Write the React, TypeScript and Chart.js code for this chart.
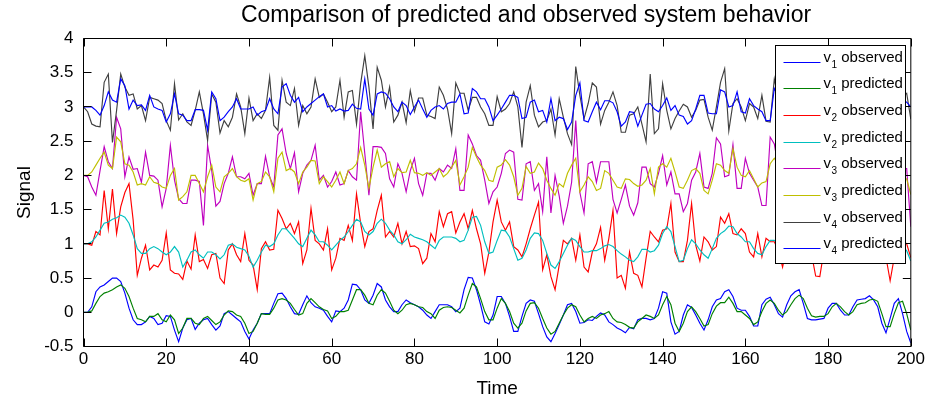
import React, { useEffect, useRef } from "react";
import { Chart, registerables } from "chart.js";

Chart.register(...registerables);

const FONT = "'Liberation Sans', Arial, Helvetica, sans-serif";
const TITLE = "Comparison of predicted and observed system behavior";
const X_LABEL = "Time";
const Y_LABEL = "Signal";

const TIME = Array.from({ length: 201 }, (_, i) => i);
const X_TICK_VALUES = [0, 20, 40, 60, 80, 100, 120, 140, 160, 180, 200];
const Y_TICK_VALUES = [-0.5, 0, 0.5, 1, 1.5, 2, 2.5, 3, 3.5, 4];

const V1_OBSERVED = [
  0, 0, 0.08, 0.3, 0.37, 0.4, 0.45, 0.5, 0.5, 0.45,
  0.28, 0.06, -0.11, -0.18, -0.18, -0.14, -0.06, -0.09, -0.18, -0.16,
  -0.05, -0.06, -0.26, -0.43, -0.23, -0.11, -0.09, -0.25, -0.16, -0.11,
  -0.09, -0.18, -0.26, -0.2, -0.02, 0.01, -0.04, -0.09, -0.14, -0.28,
  -0.39, -0.26, -0.16, -0.02, -0.02, -0.02, 0.13, 0.27, 0.28, 0.2,
  0.08, -0.02, -0.03, 0.11, 0.24, 0.14, 0.08, 0.06, 0.03, -0.06,
  -0.14, 0.02, 0.01, 0.06, 0.18, 0.41, 0.4, 0.33, 0.18, 0.13,
  0.25, 0.42, 0.37, 0.18, 0.08, 0.01, 0.01, 0.11, 0.18, 0.14,
  0.11, 0.08, 0.03, -0.04, -0.09, 0.01, 0.11, 0.11, 0.11, 0.08,
  0.01, 0.06, 0.33, 0.51, 0.5, 0.33, 0.11, -0.14, -0.17, -0.04,
  0.23, 0.23, 0.13, -0.06, -0.28, -0.28, -0.06, 0.13, 0.18, 0.16,
  -0.02, -0.21, -0.36, -0.43, -0.31, -0.18, -0.04, 0.11, 0.13, 0.01,
  -0.16, -0.15, -0.11, -0.12, -0.06, -0.01, -0.04, -0.14, -0.18, -0.23,
  -0.26, -0.3, -0.22, -0.24, -0.11, -0.09, -0.09, -0.11, -0.09, 0.06,
  0.3, 0.28, -0.14, -0.32, -0.28, -0.04, 0.11, 0.07, -0.04, -0.16,
  -0.26, -0.11, 0.08, 0.18, 0.2, 0.3, 0.33, 0.23, 0.06, 0.03,
  0.03, -0.06, -0.2, -0.2, 0.11, 0.19, 0.22, 0.11, -0.02, -0.07,
  0.11, 0.24, 0.3, 0.33, 0.13, -0.09, -0.11, -0.11, -0.1, -0.09,
  0.06, 0.13, 0.13, 0.03, -0.04, -0.04, 0.08, 0.18, 0.19, 0.2,
  0.24, 0.18, 0.08, -0.16, -0.3, -0.09, 0.13, 0.2, -0.02, -0.28,
  -0.45,
];

const V1_PREDICTED = [
  0, 0, 0.02, 0.13, 0.23, 0.28, 0.3, 0.33, 0.37, 0.4,
  0.35, 0.23, 0.06, -0.09, -0.11, -0.14, -0.06, -0.06, -0.02, -0.11,
  -0.14, -0.04, -0.11, -0.31, -0.23, -0.09, -0.09, -0.16, -0.18, -0.09,
  -0.06, -0.12, -0.18, -0.14, -0.04, 0.02, 0.01, -0.04, -0.06, -0.16,
  -0.31, -0.28, -0.16, -0.02, -0.03, -0.03, 0.06, 0.18, 0.2, 0.18,
  0.13, 0.04, -0.04, -0.02, 0.13, 0.2, 0.14, 0.08, 0.04, 0.02,
  -0.09, -0.06, 0.01, 0.01, 0.03, 0.18, 0.33, 0.33, 0.25, 0.13,
  0.11, 0.25, 0.33, 0.28, 0.16, 0.03, -0.02, 0.03, 0.11, 0.13,
  0.11, 0.08, 0.07, 0.01, -0.02, -0.09, 0.03, 0.07, 0.08, 0.07,
  0.03, -0.01, 0.06, 0.25, 0.42, 0.37, 0.2, 0.01, -0.11, -0.11,
  0.06, 0.2, 0.13, 0.01, -0.16, -0.23, -0.16, 0.02, 0.13, 0.14,
  0.06, -0.09, -0.23, -0.32, -0.28, -0.16, -0.04, 0.06, 0.11, 0.08,
  -0.04, -0.14, -0.09, -0.06, -0.09, -0.04, -0.02, 0.01, -0.09, -0.14,
  -0.15, -0.18, -0.22, -0.23, -0.14, -0.09, -0.04, -0.06, -0.09, -0.04,
  0.11, 0.23, 0.11, -0.16, -0.28, -0.16, 0.01, 0.08, 0.01, -0.09,
  -0.2, -0.18, -0.02, 0.09, 0.14, 0.14, 0.22, 0.13, 0.01, 0.01,
  -0.04, -0.09, -0.18, -0.14, 0.01, 0.13, 0.18, 0.13, 0.03, -0.04,
  0.01, 0.11, 0.2, 0.25, 0.2, 0.06, -0.05, -0.07, -0.06, -0.06,
  -0.02, 0.08, 0.13, 0.08, 0.01, -0.04, 0.01, 0.11, 0.13, 0.14,
  0.18, 0.19, 0.16, -0.02, -0.21, -0.21, -0.02, 0.14, 0.16, -0.02,
  -0.26,
];

const V2_OBSERVED = [
  1, 1, 0.98, 1.18, 1.13, 1.78, 1.22, 1.8, 1.15, 1.54,
  1.75, 1.88, 1.35, 0.54, 0.79, 0.98, 0.62, 0.69, 0.66, 0.76,
  1.16, 0.62, 0.57, 0.56, 0.48, 0.75, 0.63, 1.13, 0.74, 0.77,
  0.64, 0.84, 0.86, 0.5, 0.42, 0.91, 1.0, 0.84, 0.74, 1.15,
  0.76, 0.69, 0.33, 0.93, 1.03, 0.91, 0.92, 1.49, 1.37, 1.22,
  1.3, 1.15, 1.32, 0.71, 0.91, 1.52, 1.05, 1.0, 0.91, 1.22,
  0.62, 0.79, 1.08, 1.05, 1.27, 1.05, 1.73, 1.3, 0.96, 1.18,
  1.22, 1.49, 1.71, 1.1, 1.18, 1.1, 1.3, 1.0, 1.18, 0.96,
  0.97, 0.93, 0.71, 0.79, 1.15, 1.03, 1.47, 1.25, 1.44, 1.47,
  1.16, 1.32, 1.44, 1.22, 1.49, 1.22, 1.0, 0.57, 0.88, 1.32,
  1.64, 1.32, 1.2, 1.32, 0.96, 0.91, 0.81, 1.0, 1.22, 1.42,
  1.61, 0.62, 0.84, 0.52, 0.33, 0.69, 1.05, 1.0, 1.08, 0.76,
  1.13, 0.66, 0.59, 0.88, 1.0, 1.24, 0.76, 1.08, 1.49, 0.5,
  0.54, 0.35, 0.88, 0.57, 0.54, 0.37, 0.79, 1.18, 1.1, 1.03,
  1.2, 1.22, 1.59, 0.88, 0.74, 0.74, 1.05, 1.59, 0.98, 0.75,
  1.1, 1.03, 0.91, 0.96, 1.39, 1.3, 1.44, 1.15, 1.13, 1.22,
  1.15, 0.88, 0.81, 1.15, 0.81, 1.08, 1.03, 1.03, 0.9, 0.66,
  0.95, 1.2, 1.35, 1.05, 1.25, 0.95, 0.85, 0.53, 0.52, 0.9,
  1.1, 1.3, 1.0, 1.15, 0.95, 1.25, 1.4, 1.1, 0.9, 1.05,
  1.3, 1.2, 1.0, 0.85, 0.8, 0.46, 0.8, 0.95, 1.05, 1.0,
  0.8,
];

const V2_PREDICTED = [
  1, 1, 1.03, 1.1, 1.2, 1.3, 1.32, 1.36, 1.38, 1.42,
  1.39, 1.3, 1.13, 0.93, 0.86, 0.86, 0.93, 0.96, 0.93, 0.88,
  0.84, 0.88, 0.96, 0.88, 0.66, 0.76, 0.88, 0.91, 0.84, 0.79,
  0.88, 0.88, 0.84, 0.78, 0.84, 0.98, 1.0, 0.95, 0.93, 0.91,
  0.82, 0.66, 0.76, 0.88, 0.98, 0.96, 1.0, 1.13, 1.22, 1.22,
  1.15, 1.08, 1.0, 0.96, 1.08, 1.2, 1.13, 1.03, 1.03, 0.98,
  0.91, 0.98, 1.05, 1.1, 1.18, 1.27, 1.36, 1.32, 1.18, 1.13,
  1.18, 1.3, 1.36, 1.3, 1.2, 1.13, 1.03, 1.0, 1.06, 1.14,
  1.1, 1.08, 1.06, 1.03, 0.98, 0.93, 1.05, 1.1, 1.1, 1.1,
  1.08, 1.03, 1.05, 1.2, 1.39, 1.4, 1.27, 1.03, 0.86, 0.88,
  1.05, 1.2, 1.19, 1.1, 0.93, 0.76, 0.79, 0.91, 1.08, 1.16,
  1.15, 1.05, 0.86, 0.69, 0.64, 0.74, 0.86, 0.98, 1.08, 1.05,
  0.96, 0.88, 0.88, 0.9, 0.9, 0.93, 0.97, 0.99, 0.96, 0.9,
  0.85, 0.81, 0.76, 0.74, 0.81, 0.92, 0.92, 0.88, 0.9, 0.98,
  1.15, 1.25, 1.18, 0.96, 0.74, 0.76, 0.93, 1.06, 1.0, 0.91,
  0.84, 0.79, 0.93, 1.08, 1.15, 1.19, 1.26, 1.25, 1.15, 1.1,
  1.03, 1.03, 0.93, 0.86, 0.84, 0.96, 1.05, 1.05, 1.0, 0.92,
  0.95, 1.05, 1.15, 1.12, 1.1, 1.0, 0.9, 0.8, 0.82, 0.92,
  1.05, 1.15, 1.1, 1.08, 1.05, 1.1, 1.2, 1.15, 1.05, 1.05,
  1.15, 1.15, 1.05, 0.95, 0.85, 0.75, 0.8, 0.9, 0.95, 0.9,
  0.75,
];

const V3_OBSERVED = [
  2, 1.98, 1.83, 1.71, 2.07, 2.42, 2.2, 2.1, 2.85, 2.68,
  1.98, 2.27, 2.09, 2.1, 1.9, 2.34, 2.0, 1.99, 1.93, 1.54,
  1.81, 2.44, 1.93, 1.66, 1.59, 1.59, 1.93, 1.93, 1.91, 1.27,
  2.44, 2.07, 1.55, 1.62, 1.88, 2.03, 2.27, 1.98, 1.98, 1.95,
  2.03, 1.71, 1.88, 1.88, 2.28, 1.98, 1.83, 2.59, 2.68, 2.32,
  2.1, 2.33, 1.76, 2.03, 2.15, 2.22, 2.44, 1.93, 2.0, 1.83,
  1.91, 2.05, 1.86, 1.88, 2.07, 1.98, 1.93, 2.93, 2.32, 1.71,
  2.42, 2.42, 2.41, 2.32, 1.95, 1.83, 2.17, 2.03, 1.76, 2.07,
  2.25, 1.88, 1.71, 2.03, 2.03, 1.93, 2.1, 2.05, 2.15, 2.1,
  2.39, 1.78, 1.78, 2.59, 2.46, 2.29, 2.22, 1.93, 1.59, 1.76,
  1.83, 2.03, 2.32, 2.37, 2.34, 1.65, 1.64, 2.17, 2.2, 1.78,
  1.88, 1.47, 2.27, 1.45, 2.0, 1.7, 1.3, 1.55, 1.9, 2.8,
  1.75, 1.45, 2.17, 2.2, 1.9, 2.2, 2.2, 2.2, 1.65, 1.45,
  1.65, 1.86, 1.55, 1.42, 1.6, 2.12, 2.12, 1.88, 1.83, 2.03,
  2.29, 1.86, 2.05, 1.73, 1.73, 1.47, 1.59, 1.93, 2.05, 2.32,
  1.83, 1.81, 2.03, 2.55, 2.46, 1.98, 2.0, 2.45, 1.81, 1.81,
  2.25, 2.03, 1.93, 1.83, 1.56, 1.56, 2.56, 2.46, 2.1, 1.8,
  2.2, 2.4, 1.9, 1.7, 2.1, 2.3, 1.85, 1.6, 2.0, 2.35,
  2.05, 1.75, 2.2, 2.45, 2.0, 1.8, 2.1, 2.3, 1.95, 1.7,
  2.05, 2.4, 2.15, 1.8, 2.0, 2.3, 1.9, 1.65, 2.1, 2.1,
  1.25,
];

const V3_PREDICTED = [
  2, 2, 2.05, 2.15, 2.25, 2.34, 2.15, 2.1, 2.56, 2.49,
  2.17, 2.15, 2.05, 1.86, 1.88, 1.86, 1.98, 1.9, 1.88, 1.83,
  1.81, 2.0, 2.1, 1.64, 1.69, 1.76, 2.0, 2.0, 1.88, 1.76,
  1.98, 2.15, 1.83, 1.76, 1.98, 2.03, 2.1, 1.98, 1.93, 1.91,
  1.95, 1.64, 1.88, 1.91, 2.05, 1.98, 1.76, 2.25, 2.34, 2.07,
  2.1, 2.05, 1.88, 2.05, 2.12, 2.22, 2.21, 1.88, 1.98, 1.91,
  1.83, 1.93, 2.05, 1.88, 2.07, 2.1, 2.17, 2.41, 2.15, 1.81,
  2.12, 2.37, 2.12, 2.17, 2.2, 1.98, 2.1, 2.04, 2.05, 2.22,
  2.04, 2.03, 2.0, 2.04, 2.0, 2.05, 2.1, 1.98, 2.03, 2.12,
  2.22, 1.86, 1.98, 2.12, 2.41, 2.27, 2.15, 2.07, 1.93, 1.91,
  2.12, 2.15, 2.23, 2.15, 1.98, 1.71, 1.81, 2.13, 2.03, 2.05,
  2.18, 2.1, 1.93, 1.81, 1.71, 1.88, 1.83, 2.03, 2.15, 2.25,
  1.76, 1.86, 1.98, 1.91, 1.78, 1.81, 2.07, 2.03, 1.93, 1.83,
  1.81, 1.95, 1.94, 1.88, 1.84, 1.86, 1.93, 2.1, 1.73, 2.12,
  2.17, 2.12, 2.25, 2.05, 1.83, 1.81, 1.93, 2.07, 2.1, 2.03,
  1.78, 1.73, 1.93, 2.17, 2.15, 2.07, 2.03, 2.39, 2.12, 2.0,
  1.98, 2.07, 1.95, 1.83, 1.89, 1.91, 2.17, 2.25, 2.15, 1.95,
  2.05, 2.2, 2.05, 1.9, 2.0, 2.15, 2.0, 1.85, 1.95, 2.15,
  2.1, 1.95, 2.05, 2.2, 2.1, 1.95, 2.0, 2.15, 2.05, 1.9,
  1.95, 2.15, 2.1, 1.95, 1.95, 2.1, 2.0, 1.85, 1.95, 1.95,
  1.72,
];

const V4_OBSERVED = [
  3, 2.93, 2.75, 2.72, 2.71, 3.36, 3.48, 2.48, 2.95, 3.48,
  3.29, 3.17, 3.19, 2.97, 3.02, 2.8, 3.14, 3.12, 3.1, 3.05,
  2.8, 2.66, 3.34, 2.81, 2.9, 2.78, 2.73, 2.95, 3.22, 2.9,
  2.51, 3.19, 3.07, 2.62, 2.8, 2.71, 2.85, 3.19, 3.0, 2.61,
  3.13, 2.8, 2.9, 2.83, 2.95, 3.43, 2.73, 2.66, 3.39, 3.07,
  3.02, 3.27, 2.73, 3.02, 2.9, 3.0, 3.41, 3.14, 3.19, 3.07,
  2.93, 3.0, 3.39, 2.85, 3.22, 3.24, 2.75, 3.34, 3.75, 3.29,
  2.68, 3.58, 3.39, 3.0, 3.29, 2.78, 2.88, 3.07, 2.77, 3.24,
  2.93, 3.13, 3.13, 2.88, 2.86, 2.83, 3.29, 3.17, 2.97, 2.61,
  3.35, 3.2, 3.2, 2.95, 3.14, 3.14, 3.0, 2.9, 2.73, 2.73,
  3.15, 2.93, 2.97, 3.05, 3.22, 3.0, 2.41, 3.07, 3.31, 2.88,
  2.71, 2.78, 2.8, 2.97, 2.59, 3.12, 2.85, 2.61, 2.45, 3.59,
  3.17, 2.83, 3.05, 3.35, 3.29, 2.75, 2.95, 3.07, 3.22, 3.02,
  2.63, 2.63, 2.88, 2.9, 3.0, 2.75, 2.49, 3.48, 2.61, 2.68,
  3.34, 2.95, 2.68, 2.83, 2.94, 3.04, 3.0, 2.85, 2.95, 3.1,
  3.11, 2.85, 2.66, 3.0, 3.36, 3.56, 2.65, 3.05, 3.12, 3.0,
  2.8, 3.05, 3.0, 2.83, 3.17, 2.79, 2.78, 3.41, 3.1, 2.75,
  2.95, 3.3, 2.85, 2.7, 3.15, 3.35, 2.9, 2.8, 3.2, 3.05,
  2.7, 3.25, 3.1, 2.85, 3.3, 2.95, 2.75, 3.2, 3.4, 2.9,
  2.8, 3.15, 3.0, 2.7, 3.25, 3.1, 2.85, 3.05, 3.15, 3.2,
  2.82,
];

const V4_PREDICTED = [
  3, 3, 3, 2.95, 2.88, 3.02, 3.22, 3.1, 3.07, 3.41,
  3.31, 2.97, 3.1, 3.02, 3.03, 2.95, 3.17, 3.0, 2.97, 2.95,
  2.78, 2.9, 3.19, 2.9, 2.88, 2.8, 2.8, 2.96, 2.96, 2.95,
  2.66, 3.22, 3.12, 2.8, 2.85, 2.93, 3.0, 3.12, 2.97, 2.97,
  2.97, 3.0, 2.88, 2.93, 2.95, 3.12, 2.97, 2.9, 3.29, 3.34,
  3.17, 3.07, 3.14, 2.93, 3.0, 3.05, 3.1, 3.15, 3.19, 3.0,
  3.02, 2.94, 2.97, 2.94, 2.95, 3.04, 2.98, 2.97, 3.41, 2.97,
  2.88, 3.19, 3.22, 3.2, 3.12, 3.0, 2.93, 3.07, 3.02, 2.89,
  3.0, 3.1, 2.97, 2.85, 2.95, 3.0, 3.02, 2.97, 3.05, 3.07,
  3.07, 3.19, 2.9, 2.91, 3.27, 3.22, 3.12, 3.12, 3.0, 2.8,
  2.88, 2.97, 3.07, 3.17, 3.17, 3.14, 2.83, 2.85, 3.07, 3.1,
  2.93, 2.95, 2.78, 3.12, 2.8, 2.85, 2.83, 2.67, 2.78, 3.17,
  3.35, 2.8, 2.78, 2.93, 3.07, 2.96, 3.09, 3.09, 3.06, 2.93,
  2.72, 2.78, 2.93, 2.92, 2.72, 2.88, 3.04, 3.05, 2.97, 2.93,
  3.02, 3.13, 2.95, 3.02, 2.88, 2.86, 2.75, 2.8, 2.97, 3.17,
  3.17, 2.91, 2.9, 2.9, 3.25, 3.22, 3.0, 3.02, 3.22, 2.93,
  2.91, 3.12, 3.02, 2.97, 2.93, 2.8, 2.8, 3.27, 3.15, 2.95,
  3.0, 3.15, 3.0, 2.9, 3.05, 3.2, 3.0, 2.9, 3.1, 3.05,
  2.85, 3.1, 3.05, 2.95, 3.15, 3.0, 2.9, 3.1, 3.2, 3.0,
  2.9, 3.05, 3.0, 2.85, 3.1, 3.05, 2.95, 3.0, 3.1, 3.07,
  3.0,
];

const SERIES = [
  { sub: "1", kind: "observed", data: V1_OBSERVED, color: "#0000ff" },
  { sub: "1", kind: "predicted", data: V1_PREDICTED, color: "#008000" },
  { sub: "2", kind: "observed", data: V2_OBSERVED, color: "#ff0000" },
  { sub: "2", kind: "predicted", data: V2_PREDICTED, color: "#00bfbf" },
  { sub: "3", kind: "observed", data: V3_OBSERVED, color: "#bf00bf" },
  { sub: "3", kind: "predicted", data: V3_PREDICTED, color: "#bfbf00" },
  { sub: "4", kind: "observed", data: V4_OBSERVED, color: "#404040" },
  { sub: "4", kind: "predicted", data: V4_PREDICTED, color: "#0000ff" },
];

const framePlugin = {
  id: "matlabFrame",
  afterDraw(chart: any) {
    const { ctx, chartArea, scales } = chart;
    const { left, top, right, bottom } = chartArea;
    const xs = scales.x;
    const ys = scales.y;
    ctx.save();

    // axes box and inward ticks
    ctx.strokeStyle = "#000";
    ctx.lineWidth = 1;
    ctx.beginPath();
    ctx.rect(left, top, right - left, bottom - top);
    const TL = 8;
    for (const v of X_TICK_VALUES) {
      const px = Math.round(xs.getPixelForValue(v)) + 0.5;
      ctx.moveTo(px, bottom);
      ctx.lineTo(px, bottom - TL);
      ctx.moveTo(px, top);
      ctx.lineTo(px, top + TL);
    }
    for (const v of Y_TICK_VALUES) {
      const py = Math.round(ys.getPixelForValue(v) - 0.5) + 0.5;
      ctx.moveTo(left, py);
      ctx.lineTo(left + TL, py);
      ctx.moveTo(right, py);
      ctx.lineTo(right - TL, py);
    }
    ctx.stroke();

    // legend box
    const lw = 130;
    const lh = 218;
    const lx = Math.round(right - 6 - lw) + 0.5;
    const ly = Math.round(top + 6) + 0.5;
    ctx.fillStyle = "#fff";
    ctx.fillRect(lx, ly, lw, lh);
    ctx.strokeStyle = "#000";
    ctx.strokeRect(lx, ly, lw, lh);
    const rowH = 26.7;
    SERIES.forEach((s, i) => {
      const yy = Math.round(ly + 16 + i * rowH) + 0.5;
      ctx.strokeStyle = s.color;
      ctx.lineWidth = 1;
      ctx.beginPath();
      ctx.moveTo(lx + 8, yy);
      ctx.lineTo(lx + 45, yy);
      ctx.stroke();
      ctx.fillStyle = "#000";
      ctx.textAlign = "left";
      ctx.textBaseline = "alphabetic";
      let tx = lx + 48;
      ctx.font = `15px ${FONT}`;
      ctx.fillText("v", tx, yy - 1);
      tx += ctx.measureText("v").width + 0.5;
      ctx.font = `10px ${FONT}`;
      ctx.fillText(s.sub, tx, yy + 5.5);
      tx += ctx.measureText(s.sub).width;
      ctx.font = `15px ${FONT}`;
      ctx.fillText(" " + s.kind, tx, yy - 1);
    });

    // title
    ctx.fillStyle = "#000";
    ctx.font = `23px ${FONT}`;
    ctx.textAlign = "center";
    ctx.textBaseline = "middle";
    ctx.fillText(TITLE, 526, 16);
    ctx.restore();
  },
};

export default function App() {
  const canvasRef = useRef<HTMLCanvasElement | null>(null);

  useEffect(() => {
    const canvas = canvasRef.current;
    if (!canvas) return;
    const chart = new Chart(canvas, {
      type: "line",
      data: {
        datasets: SERIES.map((s, i) => ({
          label: `v${s.sub} ${s.kind}`,
          data: TIME.map((t, k) => ({ x: t, y: s.data[k] })),
          borderColor: s.color,
          backgroundColor: s.color,
          borderWidth: 1.15,
          pointRadius: 0,
          tension: 0,
          fill: false,
          order: SERIES.length - i,
        })),
      },
      options: {
        responsive: false,
        animation: false,
        devicePixelRatio: 1,
        events: [],
        layout: { padding: { top: 38.5, right: 15.5, bottom: 0, left: 0 } },
        plugins: {
          legend: { display: false },
          tooltip: { enabled: false },
          title: { display: false },
        },
        scales: {
          x: {
            type: "linear",
            min: 0,
            max: 200,
            afterBuildTicks: (s: any) => {
              s.ticks = X_TICK_VALUES.map((v) => ({ value: v }));
            },
            afterFit: (s: any) => {
              s.height = 59.5;
            },
            ticks: {
              color: "#000",
              padding: 3,
              maxRotation: 0,
              autoSkip: false,
              font: { family: FONT, size: 17 },
              callback: (v: any) => String(v),
            },
            grid: { display: false, drawTicks: false },
            border: { display: false },
            title: {
              display: true,
              text: X_LABEL,
              color: "#000",
              font: { family: FONT, size: 19 },
              padding: { top: 0, bottom: 6 },
            },
          },
          y: {
            type: "linear",
            min: -0.5,
            max: 4,
            afterBuildTicks: (s: any) => {
              s.ticks = Y_TICK_VALUES.map((v) => ({ value: v }));
            },
            afterFit: (s: any) => {
              s.width = 83.5;
            },
            ticks: {
              color: "#000",
              padding: 10,
              autoSkip: false,
              font: { family: FONT, size: 17 },
              callback: (v: any) => String(v),
            },
            grid: { display: false, drawTicks: false },
            border: { display: false },
            title: {
              display: true,
              text: Y_LABEL,
              color: "#000",
              font: { family: FONT, size: 19 },
              padding: { top: 13, bottom: 0 },
            },
          },
        },
      },
      plugins: [framePlugin],
    });
    return () => chart.destroy();
  }, []);

  return (
    <div style={{ position: "absolute", left: 0, top: 0, width: 928, height: 406, background: "#fff" }}>
      <canvas ref={canvasRef} width={928} height={406} style={{ width: 928, height: 406, display: "block" }} />
    </div>
  );
}
